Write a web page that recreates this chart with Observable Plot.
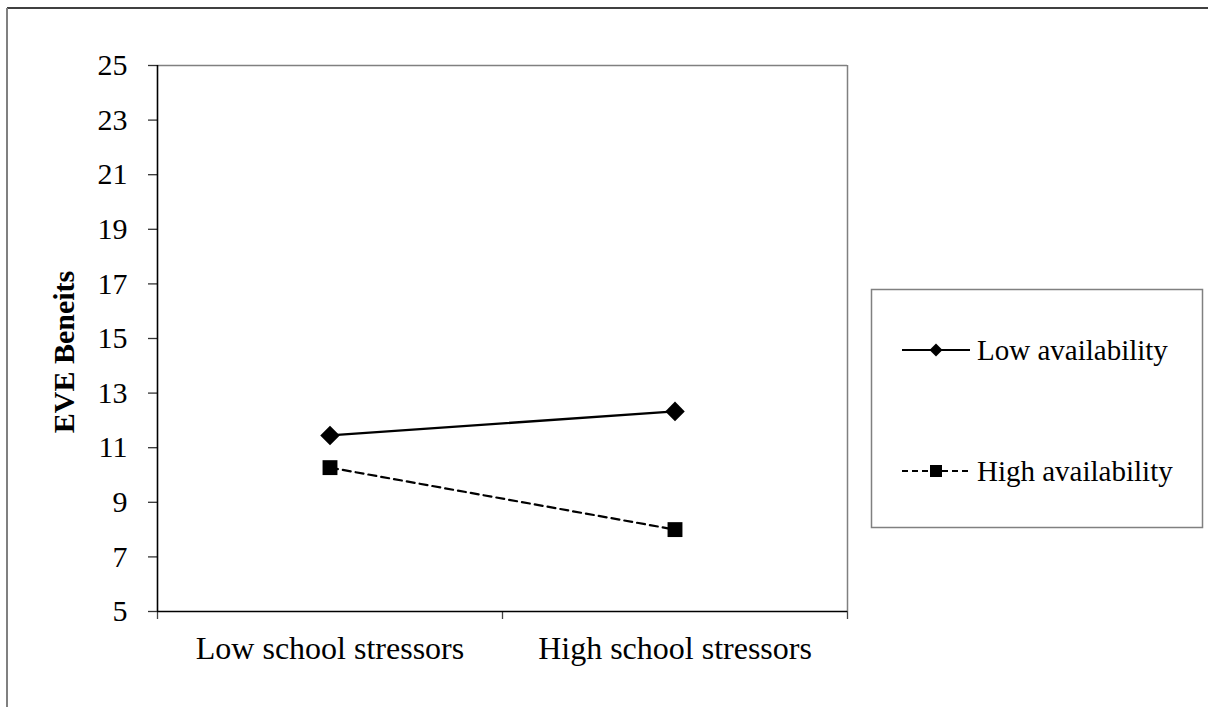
<!DOCTYPE html>
<html>
<head>
<meta charset="utf-8">
<script src="https://cdn.jsdelivr.net/npm/d3@7"></script>
<script src="https://cdn.jsdelivr.net/npm/@observablehq/plot@0.6"></script>
<style>
html,body{margin:0;padding:0;background:#fff;}
#chart svg{display:block;}
</style>
</head>
<body>
<div id="chart"></div>
<script>
const categories = ["Low school stressors", "High school stressors"];
const seriesNames = ["Low availability", "High availability"];
const lowAvailability = [11.45, 12.33];
const highAvailability = [10.27, 8.0];
const yTicks = [5, 7, 9, 11, 13, 15, 17, 19, 21, 23, 25];
const yTitle = "EVE Beneits";

const data = [];
categories.forEach((c, i) => {
  data.push({series: seriesNames[0], cat: c, xi: i + 0.5, value: lowAvailability[i]});
  data.push({series: seriesNames[1], cat: c, xi: i + 0.5, value: highAvailability[i]});
});
const catRows = categories.map((c, i) => ({cat: c, xi: i + 0.5}));
const xEdges = d3.range(categories.length + 1);

const W = 1208, H = 707;
const font = "'Liberation Serif', 'Times New Roman', serif";

const plot = Plot.plot({
  width: W, height: H,
  marginLeft: 157, marginRight: 361, marginTop: 65, marginBottom: 96,
  style: {fontFamily: font, fontSize: "30px", background: "white", color: "black"},
  x: {type: "linear", domain: [0, categories.length], axis: null},
  y: {type: "linear", domain: [5, 25], axis: null},
  marks: [
    // plot frame: top/right gray
    Plot.ruleY([25], {x1: 0, x2: categories.length, stroke: "#808080", strokeWidth: 1.5}),
    Plot.ruleX([categories.length], {y1: 5, y2: 25, stroke: "#808080", strokeWidth: 1.5}),
    // y axis
    Plot.axisY({ticks: yTicks, tickSize: 9, tickPadding: 21, fontSize: 30, stroke: "#333", strokeWidth: 1.3, strokeOpacity: 1, label: null, tickFormat: d => String(d)}),
    // x ticks at category boundaries
    Plot.axisX({ticks: xEdges, tickSize: 8, tickFormat: () => "", stroke: "#444", strokeWidth: 1.3, strokeOpacity: 1, label: null}),
    // axes lines
    Plot.ruleX([0], {y1: 5, y2: 25, stroke: "black", strokeWidth: 1.6}),
    Plot.ruleY([5], {x1: 0, x2: categories.length, stroke: "black", strokeWidth: 1.6}),
    Plot.text(catRows, {x: "xi", y: 5, text: "cat", dy: 37, fontSize: 32, fill: "black"}),
    // lines
    Plot.line(data.filter(d => d.series === seriesNames[0]), {x: "xi", y: "value", stroke: "black", strokeWidth: 2.4}),
    Plot.line(data.filter(d => d.series === seriesNames[1]), {x: "xi", y: "value", stroke: "black", strokeWidth: 2.2, strokeDasharray: "8,5"}),
    Plot.dot(data.filter(d => d.series === seriesNames[0]), {x: "xi", y: "value", symbol: "square", rotate: 45, r: 7.8, fill: "black", stroke: "none"}),
    Plot.dot(data.filter(d => d.series === seriesNames[1]), {x: "xi", y: "value", symbol: "square", r: 8.4, fill: "black", stroke: "none"})
  ]
});

document.getElementById("chart").appendChild(plot);

const svg = d3.select(plot);
// y title
svg.append("text").attr("transform", "translate(63,352) rotate(-90)")
  .attr("dy", "0.35em").style("text-anchor", "middle").style("font-family", font)
  .style("font-size", "30px").style("font-weight", "bold").attr("fill", "black").text(yTitle);

// outer frame (top and left visible edges)
svg.append("line").attr("x1", 7).attr("x2", W).attr("y1", 8).attr("y2", 8).attr("stroke", "black").attr("stroke-width", 1.5);
svg.append("line").attr("x1", 7).attr("x2", 7).attr("y1", 8).attr("y2", H).attr("stroke", "#808080").attr("stroke-width", 2);

// legend box
const lg = svg.append("g").style("font-family", font).style("font-size", "29px");
lg.append("rect").attr("x", 871.5).attr("y", 289.5).attr("width", 331).attr("height", 238)
  .attr("fill", "white").attr("stroke", "#808080").attr("stroke-width", 1.5);
const legendItems = [
  {name: seriesNames[0], y: 350, dash: null, sym: "diamond"},
  {name: seriesNames[1], y: 471, dash: "6,4", sym: "square"}
];
legendItems.forEach(it => {
  lg.append("line").attr("x1", 902).attr("x2", 970).attr("y1", it.y).attr("y2", it.y)
    .attr("stroke", "black").attr("stroke-width", 2).attr("stroke-dasharray", it.dash);
  if (it.sym === "diamond") {
    lg.append("path").attr("d", `M936,${it.y-6.5}L942.5,${it.y}L936,${it.y+6.5}L929.5,${it.y}Z`).attr("fill", "black");
  } else {
    lg.append("rect").attr("x", 930).attr("y", it.y - 6).attr("width", 12).attr("height", 12).attr("fill", "black");
  }
  lg.append("text").attr("x", 977).attr("y", it.y).attr("dy", "0.35em").attr("fill", "black").style("text-anchor", "start").text(it.name);
});
</script>
</body>
</html>
